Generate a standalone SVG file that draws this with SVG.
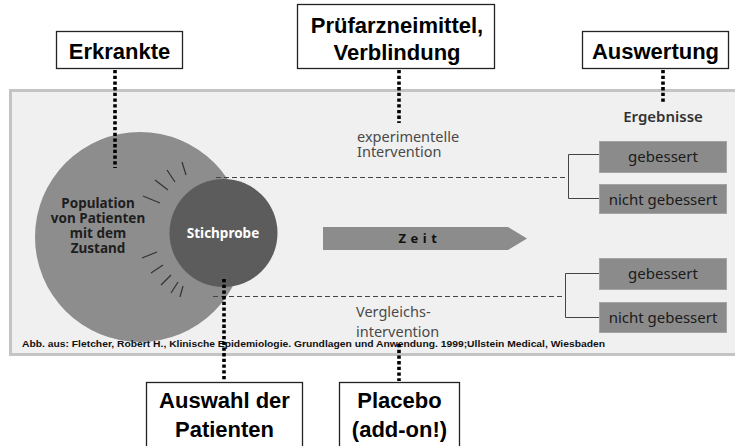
<svg xmlns="http://www.w3.org/2000/svg" width="735" height="446" viewBox="0 0 735 446">
<defs>
<style>
.lbl{fill:#fff;stroke:#222;stroke-width:1.3}
.lt{font-family:"Liberation Sans",Arial,sans-serif;font-weight:bold;font-size:22px;fill:#000;text-anchor:middle}
.fig{font-family:"Noto Sans","Open Sans",sans-serif}
.circ{font-weight:bold;font-size:13.5px;fill:#1e1e1e;text-anchor:middle}
.res{fill:#8b8b8b;stroke:#a4a4a4;stroke-width:1}
.rt{font-size:15px;fill:#1a1a1a;text-anchor:middle}
.iv{font-size:14.5px;fill:#4a4a4a}
.dot{stroke:#000;stroke-width:3.6;stroke-dasharray:3.3 2.4;fill:none}
.dash{stroke:#444;stroke-width:1;stroke-dasharray:5 3;fill:none}
.br{stroke:#444;stroke-width:1;fill:none}
.tick{stroke:#333;stroke-width:1.2}
</style>
</defs>
<rect width="735" height="446" fill="#fff"/>
<g id="panel">
<rect x="10.5" y="90.5" width="730" height="264" fill="#f0f0f0" stroke="#c4c4c4" stroke-width="3"/>
</g>
<g id="population">
<circle cx="140" cy="237" r="105" fill="#8d8d8d"/>
<text class="fig circ" x="98" y="208">Population</text>
<text class="fig circ" x="98" y="223">von Patienten</text>
<text class="fig circ" x="98" y="238">mit dem</text>
<text class="fig circ" x="98" y="253">Zustand</text>
<g class="tick">
<line x1="182" y1="162" x2="186" y2="175"/>
<line x1="167" y1="170" x2="175" y2="182"/>
<line x1="155" y1="180" x2="168" y2="190"/>
<line x1="143" y1="196" x2="160" y2="203"/>
<line x1="142" y1="258" x2="157" y2="252"/>
<line x1="151" y1="273" x2="163" y2="265"/>
<line x1="161" y1="285" x2="171" y2="275"/>
<line x1="171" y1="293" x2="178" y2="282"/>
<line x1="180" y1="297" x2="183" y2="286"/>
</g>
</g>
<g id="stichprobe">
<circle cx="223.5" cy="233" r="54" fill="#5c5c5c"/>
<text class="fig circ" x="223" y="238" style="fill:#fff">Stichprobe</text>
</g>
<g id="zeit">
<polygon points="323,227 508,227 527,238.5 508,250 323,250" fill="#8c8c8c"/>
<text class="fig" x="420" y="243" text-anchor="middle" font-size="13" font-weight="bold" letter-spacing="4.5" fill="#111">Zeit</text>
</g>
<g id="experimentelle">
<text class="fig iv" x="357" y="142">experimentelle</text>
<text class="fig iv" x="357" y="157">Intervention</text>
</g>
<g id="vergleichs">
<text class="fig iv" x="356" y="317">Vergleichs-</text>
<text class="fig iv" x="356" y="337">intervention</text>
</g>
<g id="ergebnisse">
<text class="fig" x="663" y="122" text-anchor="middle" font-size="15" font-weight="600" fill="#333">Ergebnisse</text>
</g>
<g id="exp-gebessert">
<rect class="res" x="599.5" y="141.5" width="127" height="31"/>
<text class="fig rt" x="663" y="162">gebessert</text>
</g>
<g id="exp-nicht">
<rect class="res" x="599.5" y="184.5" width="127" height="29"/>
<text class="fig rt" x="663" y="205">nicht gebessert</text>
</g>
<g id="ver-gebessert">
<rect class="res" x="599.5" y="258.5" width="127" height="31"/>
<text class="fig rt" x="663" y="279">gebessert</text>
</g>
<g id="ver-nicht">
<rect class="res" x="599.5" y="302.5" width="127" height="30"/>
<text class="fig rt" x="663" y="323">nicht gebessert</text>
</g>
<g id="caption">
<text x="22" y="347" font-family="'Liberation Sans',Arial,sans-serif" font-weight="bold" font-size="8.5" fill="#111" textLength="583" lengthAdjust="spacingAndGlyphs">Abb. aus: Fletcher, Robert H., Klinische Epidemiologie. Grundlagen und Anwendung. 1999;Ullstein Medical, Wiesbaden</text>
</g>
<g id="erkrankte">
<rect class="lbl" x="56.5" y="31.5" width="126" height="37"/>
<text class="lt" x="119.5" y="59">Erkrankte</text>
</g>
<g id="pruefarzneimittel">
<rect class="lbl" x="297.5" y="4.5" width="197" height="64"/>
<text class="lt" x="397" y="33">Prüfarzneimittel,</text>
<text class="lt" x="397" y="60">Verblindung</text>
</g>
<g id="auswertung">
<rect class="lbl" x="582.5" y="31.5" width="146" height="37"/>
<text class="lt" x="655.5" y="59">Auswertung</text>
</g>
<g id="auswahl">
<rect class="lbl" x="146.5" y="382.5" width="156" height="70"/>
<text class="lt" x="224.5" y="408">Auswahl der</text>
<text class="lt" x="224.5" y="437">Patienten</text>
</g>
<g id="placebo">
<rect class="lbl" x="339.5" y="382.5" width="120" height="70"/>
<text class="lt" x="399.5" y="408">Placebo</text>
<text class="lt" x="399.5" y="437">(add-on!)</text>
</g>
<g id="connectors">
<line class="dash" x1="216" y1="177.5" x2="568" y2="177.5"/>
<line class="dash" x1="213" y1="296.5" x2="565" y2="296.5"/>
<polyline class="br" points="599,154.5 568.5,154.5 568.5,198.5 599,198.5"/>
<polyline class="br" points="599,273.5 565.5,273.5 565.5,317.5 599,317.5"/>
<line class="dot" x1="115" y1="70" x2="115" y2="168"/>
<line class="dot" x1="399" y1="70" x2="399" y2="123"/>
<line class="dot" x1="663" y1="70" x2="663" y2="103"/>
<line class="dot" x1="224" y1="279" x2="224" y2="381"/>
<line class="dot" x1="399" y1="344" x2="399" y2="381"/>
</g>
</svg>
